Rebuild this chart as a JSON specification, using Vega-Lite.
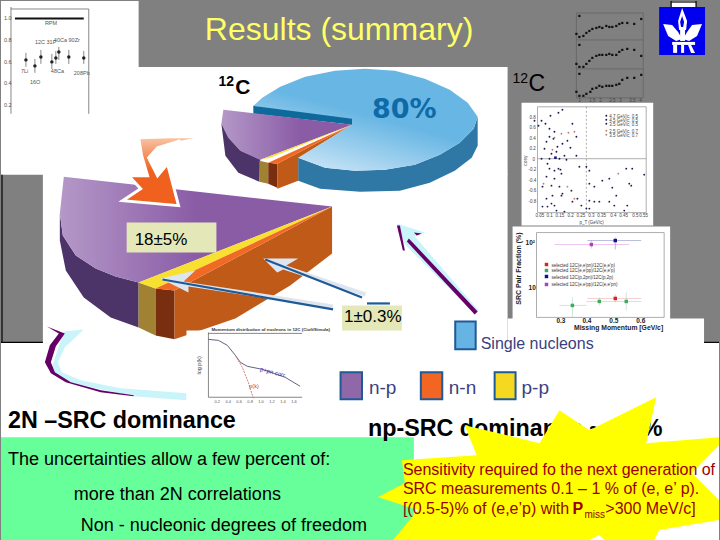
{
  "$schema": "https://vega.github.io/schema/vega-lite/v6.json",
  "description": "Slide: Results (summary), short-range correlation pie chart for 12C with small reference plots",
  "width": 720,
  "height": 540,
  "padding": 0,
  "autosize": {"type": "fit", "contains": "padding"},
  "background": "#808080",
  "view": {"stroke": null},
  "resolve": {"scale": {"fill": "independent", "stroke": "independent", "color": "independent"}},
  "encoding": {
    "x": {"field": "x", "type": "quantitative", "scale": {"domain": [0, 720], "nice": false, "zero": false}, "axis": null},
    "y": {"field": "y", "type": "quantitative", "scale": {"domain": [540, 0], "nice": false, "zero": false}, "axis": null}
  },
  "layer": [
    {
      "data": {"values": [
        {"x": 0, "x2": 138, "y": 0, "y2": 67},
        {"x": 0, "x2": 508, "y": 66, "y2": 174},
        {"x": 42, "x2": 508, "y": 173, "y2": 343},
        {"x": 0, "x2": 720, "y": 342, "y2": 540},
        {"x": 508, "x2": 705, "y": 318, "y2": 343},
        {"x": 513, "x2": 671, "y": 226, "y2": 319},
        {"x": 522, "x2": 654, "y": 102, "y2": 225},
        {"x": 672, "x2": 697, "y": 0, "y2": 6}
      ]},
      "mark": {"type": "rect", "fill": "#ffffff"},
      "encoding": {"x2": {"field": "x2"}, "y2": {"field": "y2"}}
    },
    {
      "data": {"values": [
        {"x": 0, "x2": 414, "y": 437, "y2": 540}
      ]},
      "mark": {"type": "rect", "fill": "#66ff99"},
      "encoding": {"x2": {"field": "x2"}, "y2": {"field": "y2"}}
    },
    {
      "data": {"values": [
        {"x": 1, "y": 174, "x2": 1, "y2": 342},
        {"x": 0, "y": 342, "x2": 42, "y2": 342},
        {"x": 705, "y": 342, "x2": 720, "y2": 342},
        {"x": 672, "y": 0, "x2": 672, "y2": 6},
        {"x": 697, "y": 0, "x2": 697, "y2": 6},
        {"x": 672, "y": 1, "x2": 697, "y2": 1}
      ]},
      "mark": {"type": "rule", "stroke": "#000000", "strokeWidth": 1.2},
      "encoding": {"x2": {"field": "x2"}, "y2": {"field": "y2"}}
    },
    {
      "data": {"values": [
        {"x": 298, "y": 157}, {"x": 325, "y": 167}, {"x": 355, "y": 170}, {"x": 385, "y": 169}, {"x": 415, "y": 164}, {"x": 440, "y": 154}, {"x": 460, "y": 142}, {"x": 474, "y": 128}, {"x": 478, "y": 116},
        {"x": 478, "y": 145}, {"x": 472, "y": 157}, {"x": 455, "y": 170}, {"x": 430, "y": 182}, {"x": 400, "y": 190}, {"x": 360, "y": 191}, {"x": 320, "y": 188}, {"x": 298, "y": 180}
      ]},
      "mark": {"type": "line", "order": false, "fill": "#2f78a6", "strokeWidth": 0}
    },
    {
      "data": {"values": [
        {"x": 352, "y": 124}, {"x": 253, "y": 105}, {"x": 262, "y": 97}, {"x": 280, "y": 86}, {"x": 305, "y": 76}, {"x": 335, "y": 70}, {"x": 365, "y": 68}, {"x": 395, "y": 70}, {"x": 425, "y": 78}, {"x": 450, "y": 89}, {"x": 468, "y": 102}, {"x": 478, "y": 116},
        {"x": 474, "y": 128}, {"x": 460, "y": 142}, {"x": 440, "y": 154}, {"x": 415, "y": 164}, {"x": 385, "y": 169}, {"x": 355, "y": 170}, {"x": 325, "y": 167}, {"x": 298, "y": 157}
      ]},
      "mark": {"type": "line", "order": false, "strokeWidth": 0, "fill": {"gradient": "linear", "x1": 0.2, "y1": 0.95, "x2": 0.5, "y2": 0.45, "stops": [{"offset": 0, "color": "#c8e4f6"}, {"offset": 1, "color": "#68b6e4"}]}}
    },
    {
      "data": {"values": [
        {"x": 253, "y": 105}, {"x": 352, "y": 118}, {"x": 352, "y": 124}, {"x": 253, "y": 113}
      ]},
      "mark": {"type": "line", "order": false, "fill": "#0f6a9c", "strokeWidth": 0}
    },
    {
      "data": {"values": [
        {"x": 223, "y": 109}, {"x": 352, "y": 124}, {"x": 260, "y": 159}, {"x": 240, "y": 150}, {"x": 228, "y": 137}, {"x": 221, "y": 123}
      ]},
      "mark": {"type": "line", "order": false, "strokeWidth": 0, "fill": {"gradient": "linear", "x1": 0, "y1": 0.5, "x2": 0.6, "y2": 0.5, "stops": [{"offset": 0, "color": "#b498c8"}, {"offset": 1, "color": "#8a5ca6"}]}}
    },
    {
      "data": {"values": [
        {"part": "sideP", "x": 221, "y": 123}, {"part": "sideP", "x": 228, "y": 137}, {"part": "sideP", "x": 240, "y": 150}, {"part": "sideP", "x": 260, "y": 159}, {"part": "sideP", "x": 259, "y": 181}, {"part": "sideP", "x": 238, "y": 172}, {"part": "sideP", "x": 225, "y": 155},
        {"part": "gold", "x": 259, "y": 160}, {"part": "gold", "x": 268, "y": 162}, {"part": "gold", "x": 268, "y": 183}, {"part": "gold", "x": 259, "y": 181},
        {"part": "brown", "x": 268, "y": 162}, {"part": "brown", "x": 277, "y": 163}, {"part": "brown", "x": 277, "y": 187}, {"part": "brown", "x": 268, "y": 183},
        {"part": "side", "x": 277, "y": 163}, {"part": "side", "x": 350, "y": 125}, {"part": "side", "x": 298, "y": 157}, {"part": "side", "x": 298, "y": 180}, {"part": "side", "x": 277, "y": 188},
        {"part": "yellow", "x": 260, "y": 159}, {"part": "yellow", "x": 270, "y": 157}, {"part": "yellow", "x": 352, "y": 124},
        {"part": "orange", "x": 268, "y": 162}, {"part": "orange", "x": 277, "y": 163}, {"part": "orange", "x": 352, "y": 124}
      ]},
      "mark": {"type": "line", "order": false, "strokeWidth": 0},
      "encoding": {
        "fill": {"field": "part", "type": "nominal", "legend": null, "scale": {"domain": ["sideP", "gold", "brown", "side", "yellow", "orange"], "range": ["#4c3468", "#a08232", "#7a2e10", "#c05a18", "#f8e030", "#f06a24"]}}
      }
    },
    {
      "data": {"values": [
        {"x": 59, "y": 213}, {"x": 62, "y": 235}, {"x": 75, "y": 255}, {"x": 95, "y": 268}, {"x": 115, "y": 276}, {"x": 138, "y": 282}, {"x": 138, "y": 327}, {"x": 110, "y": 317}, {"x": 83, "y": 297}, {"x": 65, "y": 270}, {"x": 59, "y": 240}
      ]},
      "mark": {"type": "line", "order": false, "fill": "#4c3468", "strokeWidth": 0}
    },
    {
      "data": {"values": [
        {"x": 63, "y": 176}, {"x": 332, "y": 206}, {"x": 138, "y": 282}, {"x": 115, "y": 276}, {"x": 95, "y": 268}, {"x": 75, "y": 255}, {"x": 62, "y": 235}, {"x": 59, "y": 213}
      ]},
      "mark": {"type": "line", "order": false, "strokeWidth": 0, "fill": {"gradient": "linear", "x1": 0, "y1": 0.5, "x2": 0.5, "y2": 0.5, "stops": [{"offset": 0, "color": "#b498c8"}, {"offset": 1, "color": "#8a5ca6"}]}}
    },
    {
      "data": {"values": [
        {"part": "gold", "x": 138, "y": 282}, {"part": "gold", "x": 155, "y": 288}, {"part": "gold", "x": 155, "y": 335}, {"part": "gold", "x": 138, "y": 327},
        {"part": "brown", "x": 155, "y": 288}, {"part": "brown", "x": 174, "y": 290}, {"part": "brown", "x": 174, "y": 339}, {"part": "brown", "x": 155, "y": 335},
        {"part": "side", "x": 174, "y": 290}, {"part": "side", "x": 332, "y": 206}, {"part": "side", "x": 332, "y": 253}, {"part": "side", "x": 290, "y": 285}, {"part": "side", "x": 235, "y": 318}, {"part": "side", "x": 174, "y": 339},
        {"part": "yellow", "x": 138, "y": 282}, {"part": "yellow", "x": 155, "y": 288}, {"part": "yellow", "x": 332, "y": 206},
        {"part": "orange", "x": 155, "y": 288}, {"part": "orange", "x": 174, "y": 290}, {"part": "orange", "x": 332, "y": 206}
      ]},
      "mark": {"type": "line", "order": false, "strokeWidth": 0},
      "encoding": {
        "fill": {"field": "part", "type": "nominal", "legend": null, "scale": {"domain": ["gold", "brown", "side", "yellow", "orange"], "range": ["#a08232", "#7a2e10", "#c05a18", "#f8e030", "#f06a24"]}}
      }
    },
    {
      "data": {"values": [
        {"x": 200, "y": 136}, {"x": 170, "y": 136}, {"x": 138, "y": 137}, {"x": 141, "y": 155}, {"x": 147, "y": 175}, {"x": 128, "y": 175}, {"x": 140, "y": 188}, {"x": 122, "y": 200}, {"x": 178, "y": 205}, {"x": 167, "y": 163}, {"x": 157, "y": 175}, {"x": 148, "y": 157}, {"x": 157, "y": 147}, {"x": 180, "y": 140}
      ]},
      "mark": {"type": "line", "order": false, "stroke": "#ffffff", "strokeWidth": 3, "fill": {"gradient": "linear", "x1": 0.5, "y1": 0, "x2": 0.5, "y2": 0.5, "stops": [{"offset": 0, "color": "#f8c8a8"}, {"offset": 1, "color": "#f0601f"}]}}
    },
    {
      "data": {"values": [
        {"part": "a", "x": 160, "y": 278}, {"part": "a", "x": 195, "y": 270}, {"part": "a", "x": 183, "y": 281}, {"part": "a", "x": 333, "y": 304}, {"part": "a", "x": 333, "y": 308}, {"part": "a", "x": 188, "y": 286}, {"part": "a", "x": 188, "y": 292},
        {"part": "b", "x": 263, "y": 258}, {"part": "b", "x": 298, "y": 258}, {"part": "b", "x": 286, "y": 265}, {"part": "b", "x": 366, "y": 292}, {"part": "b", "x": 365, "y": 296}, {"part": "b", "x": 283, "y": 269}, {"part": "b", "x": 277, "y": 272}
      ]},
      "mark": {"type": "line", "order": false, "fill": "#dde6f0", "strokeWidth": 0},
      "encoding": {"detail": {"field": "part"}}
    },
    {
      "data": {"values": [
        {"x": 162, "y": 279, "x2": 333, "y2": 309},
        {"x": 265, "y": 259, "x2": 362, "y2": 297},
        {"x": 367, "y": 303, "x2": 390, "y2": 303}
      ]},
      "mark": {"type": "rule", "stroke": "#1f5a96", "strokeWidth": 2.2},
      "encoding": {"x2": {"field": "x2"}, "y2": {"field": "y2"}}
    },
    {
      "data": {"values": [
        {"part": "a", "x": 397, "y": 223}, {"part": "a", "x": 425, "y": 232}, {"part": "a", "x": 415, "y": 236}, {"part": "a", "x": 479, "y": 310}, {"part": "a", "x": 475, "y": 313}, {"part": "a", "x": 405, "y": 244},
        {"part": "b", "x": 63, "y": 331}, {"part": "b", "x": 83, "y": 329}, {"part": "b", "x": 64, "y": 347}, {"part": "b", "x": 57, "y": 362}, {"part": "b", "x": 61, "y": 372}, {"part": "b", "x": 80, "y": 380}, {"part": "b", "x": 120, "y": 388}, {"part": "b", "x": 186, "y": 393}, {"part": "b", "x": 186, "y": 400}, {"part": "b", "x": 133, "y": 396}, {"part": "b", "x": 67, "y": 382}, {"part": "b", "x": 50, "y": 370}
      ]},
      "mark": {"type": "line", "order": false, "fill": "#c8f4fa", "strokeWidth": 0},
      "encoding": {"detail": {"field": "part"}}
    },
    {
      "data": {"values": [
        {"part": "c", "x": 46, "y": 326}, {"part": "c", "x": 64, "y": 333}, {"part": "c", "x": 55, "y": 346}, {"part": "c", "x": 50, "y": 362}, {"part": "c", "x": 54, "y": 372}, {"part": "c", "x": 70, "y": 382}, {"part": "c", "x": 100, "y": 390}, {"part": "c", "x": 133, "y": 395}, {"part": "c", "x": 133, "y": 396}, {"part": "c", "x": 100, "y": 392}, {"part": "c", "x": 65, "y": 382}, {"part": "c", "x": 50, "y": 373}, {"part": "c", "x": 44, "y": 362}, {"part": "c", "x": 49, "y": 345}, {"part": "c", "x": 58, "y": 333},
        {"part": "d", "x": 397, "y": 225}, {"part": "d", "x": 400, "y": 225}, {"part": "d", "x": 405, "y": 250}, {"part": "d", "x": 403, "y": 250},
        {"part": "e", "x": 409, "y": 238}, {"part": "e", "x": 478, "y": 311}, {"part": "e", "x": 475, "y": 314}, {"part": "e", "x": 407, "y": 241},
        {"part": "f", "x": 414, "y": 232}, {"part": "f", "x": 422, "y": 233}, {"part": "f", "x": 417, "y": 235}
      ]},
      "mark": {"type": "line", "order": false, "fill": "#660066", "strokeWidth": 0},
      "encoding": {"detail": {"field": "part"}}
    },
    {
      "data": {"values": [
        {"x": 186, "x2": 335, "y": 330, "y2": 404}
      ]},
      "mark": {"type": "rect", "fill": "#ffffff"},
      "encoding": {"x2": {"field": "x2"}, "y2": {"field": "y2"}}
    },
    {
      "data": {"values": [
        {"x": 126, "x2": 216, "y": 222, "y2": 252},
        {"x": 342, "x2": 402, "y": 305, "y2": 330}
      ]},
      "mark": {"type": "rect", "fill": "#e4e8b8"},
      "encoding": {"x2": {"field": "x2"}, "y2": {"field": "y2"}}
    },
    {
      "data": {"values": [
        {"x": 14, "y": 17.5, "x2": 83, "y2": 17.5}
      ]},
      "mark": {"type": "rule", "stroke": "#111111", "strokeWidth": 2},
      "encoding": {"x2": {"field": "x2"}, "y2": {"field": "y2"}}
    },
    {
      "data": {"values": [
        {"x": 10, "y": 6, "x2": 10, "y2": 113},
        {"x": 88, "y": 8, "x2": 88, "y2": 113},
        {"x": 10, "y": 8, "x2": 88, "y2": 8},
        {"x": 25, "y": 52, "x2": 25, "y2": 66},
        {"x": 34, "y": 58, "x2": 34, "y2": 72},
        {"x": 40, "y": 49, "x2": 40, "y2": 63},
        {"x": 51, "y": 53, "x2": 51, "y2": 68},
        {"x": 55, "y": 50, "x2": 55, "y2": 63},
        {"x": 58, "y": 46, "x2": 58, "y2": 59},
        {"x": 68, "y": 49, "x2": 68, "y2": 63},
        {"x": 83, "y": 50, "x2": 83, "y2": 63}
      ]},
      "mark": {"type": "rule", "stroke": "#555555", "strokeWidth": 0.7},
      "encoding": {"x2": {"field": "x2"}, "y2": {"field": "y2"}}
    },
    {
      "data": {"values": [
        {"x": 25, "y": 59}, {"x": 34, "y": 65}, {"x": 40, "y": 56}, {"x": 51, "y": 61}, {"x": 55, "y": 57}, {"x": 58, "y": 51}, {"x": 68, "y": 56}, {"x": 83, "y": 57}
      ]},
      "mark": {"type": "circle", "size": 12, "color": "#222222", "opacity": 1}
    },
    {
      "data": {"values": [
        {"text": "RPM", "x": 44, "y": 24},
        {"text": "12C 31P", "x": 34, "y": 43},
        {"text": "40Ca 90Zr", "x": 53, "y": 41},
        {"text": "7Li", "x": 20, "y": 72},
        {"text": "16O", "x": 29, "y": 83},
        {"text": "48Ca", "x": 50, "y": 72},
        {"text": "208Pb", "x": 73, "y": 74},
        {"text": "1.0", "x": 3, "y": 19},
        {"text": "0.8", "x": 3, "y": 41},
        {"text": "0.6", "x": 3, "y": 63},
        {"text": "0.4", "x": 3, "y": 84},
        {"text": "0.2", "x": 3, "y": 106}
      ]},
      "mark": {"type": "text", "align": "left", "baseline": "alphabetic", "font": "Liberation Sans", "fontSize": 5.5, "fill": "#555555"},
      "encoding": {"text": {"field": "text"}}
    },
    {
      "data": {"values": [
        {"x": 577, "y": 12, "x2": 577, "y2": 97},
        {"x": 644, "y": 12, "x2": 644, "y2": 97},
        {"x": 577, "y": 12, "x2": 644, "y2": 12},
        {"x": 577, "y": 39, "x2": 644, "y2": 39},
        {"x": 577, "y": 68, "x2": 644, "y2": 68},
        {"x": 577, "y": 97, "x2": 644, "y2": 97}
      ]},
      "mark": {"type": "rule", "stroke": "#606060", "strokeWidth": 0.7},
      "encoding": {"x2": {"field": "x2"}, "y2": {"field": "y2"}}
    },
    {
      "data": {"values": [
        {"x": 577, "y": 33}, {"x": 580, "y": 36}, {"x": 584, "y": 35}, {"x": 587, "y": 32}, {"x": 590, "y": 30}, {"x": 593, "y": 28}, {"x": 597, "y": 27}, {"x": 600, "y": 26}, {"x": 603, "y": 27}, {"x": 607, "y": 25}, {"x": 610, "y": 26}, {"x": 613, "y": 26}, {"x": 617, "y": 25}, {"x": 620, "y": 23}, {"x": 623, "y": 22}, {"x": 628, "y": 22}, {"x": 635, "y": 23}, {"x": 642, "y": 18}, {"x": 580, "y": 15},
        {"x": 577, "y": 63}, {"x": 580, "y": 66}, {"x": 584, "y": 66}, {"x": 587, "y": 63}, {"x": 590, "y": 60}, {"x": 593, "y": 57}, {"x": 597, "y": 55}, {"x": 600, "y": 54}, {"x": 603, "y": 54}, {"x": 607, "y": 54}, {"x": 610, "y": 53}, {"x": 613, "y": 54}, {"x": 617, "y": 54}, {"x": 620, "y": 51}, {"x": 623, "y": 49}, {"x": 628, "y": 48}, {"x": 635, "y": 49}, {"x": 642, "y": 55}, {"x": 580, "y": 44},
        {"x": 577, "y": 91}, {"x": 580, "y": 95}, {"x": 584, "y": 95}, {"x": 587, "y": 93}, {"x": 591, "y": 91}, {"x": 593, "y": 88}, {"x": 597, "y": 87}, {"x": 600, "y": 85}, {"x": 603, "y": 86}, {"x": 607, "y": 85}, {"x": 610, "y": 85}, {"x": 613, "y": 85}, {"x": 617, "y": 84}, {"x": 620, "y": 83}, {"x": 623, "y": 79}, {"x": 628, "y": 77}, {"x": 635, "y": 77}, {"x": 642, "y": 74}, {"x": 580, "y": 73}
      ]},
      "mark": {"type": "square", "size": 5, "color": "#111111", "opacity": 1}
    },
    {
      "data": {"values": [
        {"x": 538, "y": 106, "x2": 538, "y2": 212},
        {"x": 647, "y": 106, "x2": 647, "y2": 212},
        {"x": 538, "y": 106, "x2": 647, "y2": 106},
        {"x": 538, "y": 212, "x2": 647, "y2": 212},
        {"x": 538, "y": 158, "x2": 647, "y2": 158}
      ]},
      "mark": {"type": "rule", "stroke": "#999999", "strokeWidth": 0.8},
      "encoding": {"x2": {"field": "x2"}, "y2": {"field": "y2"}}
    },
    {
      "data": {"values": [
        {"x": 587, "y": 106, "x2": 587, "y2": 212}
      ]},
      "mark": {"type": "rule", "stroke": "#999999", "strokeWidth": 0.8, "strokeDash": [2, 2]},
      "encoding": {"x2": {"field": "x2"}, "y2": {"field": "y2"}}
    },
    {
      "data": {"values": [
        {"x": 563, "y": 109}, {"x": 551, "y": 115}, {"x": 559, "y": 112}, {"x": 535, "y": 120}, {"x": 542, "y": 120}, {"x": 546, "y": 123}, {"x": 539, "y": 125}, {"x": 550, "y": 128}, {"x": 573, "y": 123}, {"x": 550, "y": 136}, {"x": 555, "y": 131}, {"x": 577, "y": 136}, {"x": 547, "y": 141}, {"x": 554, "y": 138}, {"x": 568, "y": 140}, {"x": 563, "y": 143}, {"x": 558, "y": 146}, {"x": 571, "y": 147}, {"x": 545, "y": 148}, {"x": 557, "y": 151}, {"x": 552, "y": 153}, {"x": 565, "y": 155}, {"x": 577, "y": 155}, {"x": 542, "y": 158}, {"x": 550, "y": 158}, {"x": 560, "y": 158}, {"x": 567, "y": 159}, {"x": 548, "y": 163}, {"x": 580, "y": 166}, {"x": 587, "y": 166}, {"x": 590, "y": 170}, {"x": 550, "y": 168}, {"x": 555, "y": 170}, {"x": 559, "y": 168}, {"x": 561, "y": 169}, {"x": 547, "y": 176}, {"x": 555, "y": 178}, {"x": 562, "y": 173}, {"x": 543, "y": 186}, {"x": 552, "y": 185}, {"x": 560, "y": 186}, {"x": 563, "y": 193}, {"x": 572, "y": 190}, {"x": 553, "y": 195}, {"x": 562, "y": 195}, {"x": 547, "y": 198}, {"x": 552, "y": 203}, {"x": 555, "y": 205}, {"x": 573, "y": 201}, {"x": 578, "y": 198}, {"x": 548, "y": 206}, {"x": 543, "y": 206}, {"x": 557, "y": 210}, {"x": 582, "y": 205}, {"x": 587, "y": 208}, {"x": 590, "y": 183}, {"x": 595, "y": 186}, {"x": 603, "y": 180}, {"x": 610, "y": 178}, {"x": 613, "y": 187}, {"x": 617, "y": 195}, {"x": 610, "y": 201}, {"x": 600, "y": 201}, {"x": 595, "y": 201}, {"x": 590, "y": 200}, {"x": 627, "y": 168}, {"x": 633, "y": 168}, {"x": 630, "y": 183}, {"x": 632, "y": 185}, {"x": 645, "y": 174}, {"x": 628, "y": 205}, {"x": 590, "y": 208}, {"x": 565, "y": 211}, {"x": 615, "y": 205}, {"x": 625, "y": 210},
        {"x": 607, "y": 115}, {"x": 607, "y": 119}, {"x": 607, "y": 123}
      ]},
      "mark": {"type": "circle", "size": 3.5, "color": "#1a1a50", "opacity": 1}
    },
    {
      "data": {"values": [
        {"x": 555, "y": 137}, {"x": 562, "y": 133}, {"x": 569, "y": 132}, {"x": 575, "y": 131}, {"x": 553, "y": 149}, {"x": 544, "y": 183}, {"x": 568, "y": 186}, {"x": 575, "y": 198}, {"x": 607, "y": 130}, {"x": 607, "y": 134}, {"x": 619, "y": 173}
      ]},
      "mark": {"type": "circle", "size": 3.5, "color": "#c08070", "opacity": 1}
    },
    {
      "data": {"values": [
        {"x": 556, "y": 157}
      ]},
      "mark": {"type": "square", "size": 7, "color": "#1a1a80", "opacity": 1}
    },
    {
      "data": {"values": [
        {"text": "4.7 GeV/c, 0.5", "x": 610, "y": 117},
        {"text": "4.5 GeV/c, 0.5", "x": 610, "y": 121},
        {"text": "3.5 GeV/c, 0.5", "x": 610, "y": 125},
        {"text": "2.5 GeV/c, 0.7", "x": 610, "y": 132},
        {"text": "3.5 GeV/c, 0.7", "x": 610, "y": 136},
        {"text": "0.05", "x": 536, "y": 216},
        {"text": "0.1", "x": 547, "y": 216},
        {"text": "0.15", "x": 556, "y": 216},
        {"text": "0.2", "x": 568, "y": 216},
        {"text": "0.25", "x": 577, "y": 216},
        {"text": "0.3", "x": 589, "y": 216},
        {"text": "0.35", "x": 598, "y": 216},
        {"text": "0.4", "x": 611, "y": 216},
        {"text": "0.45", "x": 620, "y": 216},
        {"text": "0.5", "x": 633, "y": 216},
        {"text": "0.55", "x": 640, "y": 216},
        {"text": "0.8", "x": 530, "y": 118},
        {"text": "0.6", "x": 530, "y": 128},
        {"text": "0.4", "x": 530, "y": 139},
        {"text": "0.2", "x": 530, "y": 149},
        {"text": "0", "x": 533, "y": 160},
        {"text": "-0.2", "x": 529, "y": 170},
        {"text": "-0.4", "x": 529, "y": 181},
        {"text": "-0.6", "x": 529, "y": 191},
        {"text": "-0.8", "x": 529, "y": 202},
        {"text": "p_T (GeV/c)", "x": 580, "y": 223},
        {"text": "1", "x": 579, "y": 101},
        {"text": "1.5", "x": 590, "y": 101},
        {"text": "2", "x": 600, "y": 101},
        {"text": "2.5", "x": 610, "y": 101},
        {"text": "3", "x": 620, "y": 101},
        {"text": "3.5", "x": 630, "y": 101},
        {"text": "4", "x": 640, "y": 101}
      ]},
      "mark": {"type": "text", "align": "left", "baseline": "alphabetic", "font": "Liberation Sans", "fontSize": 4.5, "fill": "#444444"},
      "encoding": {"text": {"field": "text"}}
    },
    {
      "data": {"values": [
        {"text": "cosγ", "x": 527, "y": 160}
      ]},
      "mark": {"type": "text", "angle": 270, "align": "center", "baseline": "alphabetic", "font": "Liberation Sans", "fontSize": 5, "fill": "#444444"},
      "encoding": {"text": {"field": "text"}}
    },
    {
      "data": {"values": [
        {"x": 537, "y": 232, "x2": 537, "y2": 317},
        {"x": 665, "y": 232, "x2": 665, "y2": 317},
        {"x": 537, "y": 232, "x2": 665, "y2": 232},
        {"x": 537, "y": 317, "x2": 665, "y2": 317}
      ]},
      "mark": {"type": "rule", "stroke": "#999999", "strokeWidth": 0.8},
      "encoding": {"x2": {"field": "x2"}, "y2": {"field": "y2"}}
    },
    {
      "data": {"values": [
        {"x": 555, "y": 244, "x2": 630, "y2": 244, "s": "mag"},
        {"x": 592, "y": 240, "x2": 592, "y2": 248, "s": "mag"},
        {"x": 588, "y": 240, "x2": 642, "y2": 240, "s": "blue"},
        {"x": 616, "y": 237, "x2": 616, "y2": 249, "s": "blue"},
        {"x": 588, "y": 298, "x2": 642, "y2": 298, "s": "red"},
        {"x": 616, "y": 294, "x2": 616, "y2": 302, "s": "red"},
        {"x": 587, "y": 301, "x2": 615, "y2": 301, "s": "green"},
        {"x": 600, "y": 297, "x2": 600, "y2": 305, "s": "green"},
        {"x": 615, "y": 301, "x2": 642, "y2": 301, "s": "green"},
        {"x": 627, "y": 292, "x2": 627, "y2": 310, "s": "green"},
        {"x": 560, "y": 305, "x2": 587, "y2": 305, "s": "green"},
        {"x": 573, "y": 297, "x2": 573, "y2": 317, "s": "green"}
      ]},
      "mark": {"type": "rule", "strokeWidth": 0.7, "opacity": 0.55},
      "encoding": {
        "x2": {"field": "x2"}, "y2": {"field": "y2"},
        "stroke": {"field": "s", "type": "nominal", "legend": null, "scale": {"domain": ["mag", "blue", "red", "green"], "range": ["#d060d8", "#4050a0", "#e08080", "#80c090"]}}
      }
    },
    {
      "data": {"values": [
        {"x": 592, "y": 244, "s": "mag"},
        {"x": 547, "y": 284, "s": "mag"},
        {"x": 616, "y": 240, "s": "blue"},
        {"x": 547, "y": 276, "s": "blue"},
        {"x": 616, "y": 298, "s": "red"},
        {"x": 547, "y": 264, "s": "red"},
        {"x": 600, "y": 301, "s": "green"},
        {"x": 627, "y": 301, "s": "green"},
        {"x": 573, "y": 305, "s": "green"},
        {"x": 547, "y": 270, "s": "green"}
      ]},
      "mark": {"type": "square", "size": 12, "opacity": 1},
      "encoding": {
        "color": {"field": "s", "type": "nominal", "legend": null, "scale": {"domain": ["mag", "blue", "red", "green"], "range": ["#b040c0", "#101090", "#e02020", "#40a860"]}}
      }
    },
    {
      "data": {"values": [
        {"text": "selected 12C(e,e'pn)/12C(e,e'p)", "x": 552, "y": 266},
        {"text": "selected 12C(e,e'pp)/12C(e,e'p)", "x": 552, "y": 272},
        {"text": "selected 12C(p,2pn)/12C(p,2p)", "x": 552, "y": 279},
        {"text": "selected 12C(e,e'pp)/12C(e,e'pn)", "x": 552, "y": 286}
      ]},
      "mark": {"type": "text", "align": "left", "baseline": "alphabetic", "font": "Liberation Sans", "fontSize": 4.5, "fill": "#333333"},
      "encoding": {"text": {"field": "text"}}
    },
    {
      "data": {"values": [
        {"text": "10²", "x": 526, "y": 244},
        {"text": "10", "x": 529, "y": 290},
        {"text": "0.3", "x": 557, "y": 323},
        {"text": "0.4", "x": 583, "y": 323},
        {"text": "0.5", "x": 610, "y": 323},
        {"text": "0.6", "x": 637, "y": 323}
      ]},
      "mark": {"type": "text", "align": "left", "baseline": "alphabetic", "font": "Liberation Sans", "fontWeight": "bold", "fontSize": 6.5, "fill": "#222222"},
      "encoding": {"text": {"field": "text"}}
    },
    {
      "data": {"values": [
        {"text": "Missing Momentum [GeV/c]", "x": 664, "y": 330}
      ]},
      "mark": {"type": "text", "align": "right", "baseline": "alphabetic", "font": "Liberation Sans", "fontWeight": "bold", "fontSize": 6.8, "fill": "#222222"},
      "encoding": {"text": {"field": "text"}}
    },
    {
      "data": {"values": [
        {"text": "SRC Pair Fraction (%)", "x": 521, "y": 268}
      ]},
      "mark": {"type": "text", "angle": 270, "align": "center", "baseline": "alphabetic", "font": "Liberation Sans", "fontSize": 7, "fontWeight": "bold", "fill": "#222222"},
      "encoding": {"text": {"field": "text"}}
    },
    {
      "data": {"values": [
        {"x": 660, "x2": 706, "y": 6, "y2": 54}
      ]},
      "mark": {"type": "rect", "fill": "#0000ee"},
      "encoding": {"x2": {"field": "x2"}, "y2": {"field": "y2"}}
    },
    {
      "data": {"values": [
        {"part": "flame", "x": 683, "y": 7}, {"part": "flame", "x": 688, "y": 20}, {"part": "flame", "x": 687, "y": 29}, {"part": "flame", "x": 680, "y": 29}, {"part": "flame", "x": 679, "y": 20},
        {"part": "leafL", "x": 664, "y": 23}, {"part": "leafL", "x": 673, "y": 24}, {"part": "leafL", "x": 679, "y": 31}, {"part": "leafL", "x": 683, "y": 38}, {"part": "leafL", "x": 677, "y": 40}, {"part": "leafL", "x": 669, "y": 35},
        {"part": "leafR", "x": 703, "y": 23}, {"part": "leafR", "x": 693, "y": 24}, {"part": "leafR", "x": 688, "y": 31}, {"part": "leafR", "x": 684, "y": 38}, {"part": "leafR", "x": 690, "y": 40}, {"part": "leafR", "x": 698, "y": 35},
        {"part": "stem", "x": 681, "y": 28}, {"part": "stem", "x": 686, "y": 28}, {"part": "stem", "x": 686, "y": 40}, {"part": "stem", "x": 681, "y": 40},
        {"part": "bar", "x": 673, "y": 41}, {"part": "bar", "x": 696, "y": 41}, {"part": "bar", "x": 696, "y": 44}, {"part": "bar", "x": 673, "y": 44},
        {"part": "legL", "x": 674, "y": 44}, {"part": "legL", "x": 678, "y": 44}, {"part": "legL", "x": 678, "y": 52}, {"part": "legL", "x": 674, "y": 52},
        {"part": "legM", "x": 682, "y": 44}, {"part": "legM", "x": 685, "y": 44}, {"part": "legM", "x": 685, "y": 52}, {"part": "legM", "x": 682, "y": 52},
        {"part": "legR", "x": 689, "y": 44}, {"part": "legR", "x": 692, "y": 44}, {"part": "legR", "x": 696, "y": 52}, {"part": "legR", "x": 692, "y": 52}
      ]},
      "mark": {"type": "line", "order": false, "fill": "#ffffff", "strokeWidth": 0},
      "encoding": {"detail": {"field": "part"}}
    },
    {
      "data": {"values": [
        {"x": 683, "y": 15}, {"x": 685, "y": 21}, {"x": 684, "y": 26}, {"x": 682, "y": 26}, {"x": 681, "y": 21}
      ]},
      "mark": {"type": "line", "order": false, "fill": "#0000ee", "strokeWidth": 0}
    },
    {
      "data": {"values": [
        {"x": 208, "y": 332, "x2": 208, "y2": 397},
        {"x": 208, "y": 397, "x2": 302, "y2": 397},
        {"x": 208, "y": 333, "x2": 302, "y2": 333}
      ]},
      "mark": {"type": "rule", "stroke": "#555555", "strokeWidth": 0.7},
      "encoding": {"x2": {"field": "x2"}, "y2": {"field": "y2"}}
    },
    {
      "data": {"values": [
        {"x": 208, "y": 339}, {"x": 218, "y": 340}, {"x": 227, "y": 345}, {"x": 235, "y": 355}, {"x": 240, "y": 362}, {"x": 247, "y": 366}, {"x": 262, "y": 369}, {"x": 285, "y": 377}, {"x": 300, "y": 386}
      ]},
      "mark": {"type": "line", "order": false, "stroke": "#505070", "strokeWidth": 0.9}
    },
    {
      "data": {"values": [
        {"x": 235, "y": 355}, {"x": 242, "y": 367}, {"x": 248, "y": 382}, {"x": 253, "y": 398}
      ]},
      "mark": {"type": "line", "order": false, "stroke": "#d07070", "strokeWidth": 0.9, "strokeDash": [2, 1]}
    },
    {
      "data": {"values": [
        {"text": "Momentum distribution of nucleons in 12C (Ciofi/Simula)", "x": 211, "y": 331}
      ]},
      "mark": {"type": "text", "align": "left", "baseline": "alphabetic", "font": "Liberation Sans", "fontSize": 4.4, "fontWeight": "bold", "fill": "#333333"},
      "encoding": {"text": {"field": "text"}}
    },
    {
      "data": {"values": [
        {"text": "p+pn corr.", "x": 273, "y": 372}
      ]},
      "mark": {"type": "text", "angle": 14, "align": "center", "baseline": "middle", "font": "Liberation Sans", "fontSize": 6, "fill": "#3030b0"},
      "encoding": {"text": {"field": "text"}}
    },
    {
      "data": {"values": [
        {"text": "p(k)", "x": 249, "y": 388}
      ]},
      "mark": {"type": "text", "align": "left", "baseline": "alphabetic", "font": "Liberation Sans", "fontSize": 5.5, "fill": "#d03030"},
      "encoding": {"text": {"field": "text"}}
    },
    {
      "data": {"values": [
        {"text": "0.2", "x": 214, "y": 403},
        {"text": "0.4", "x": 225, "y": 403},
        {"text": "0.6", "x": 236, "y": 403},
        {"text": "0.8", "x": 247, "y": 403},
        {"text": "1.0", "x": 258, "y": 403},
        {"text": "1.2", "x": 269, "y": 403},
        {"text": "1.4", "x": 280, "y": 403},
        {"text": "1.6", "x": 291, "y": 403}
      ]},
      "mark": {"type": "text", "align": "left", "baseline": "alphabetic", "font": "Liberation Sans", "fontSize": 4, "fill": "#555555"},
      "encoding": {"text": {"field": "text"}}
    },
    {
      "data": {"values": [
        {"text": "log p(k)", "x": 201, "y": 365}
      ]},
      "mark": {"type": "text", "angle": 270, "align": "center", "baseline": "alphabetic", "font": "Liberation Sans", "fontSize": 5.5, "fill": "#444444"},
      "encoding": {"text": {"field": "text"}}
    },
    {
      "data": {"values": [
        {"x": 455.5, "x2": 476, "y": 321, "y2": 349, "part": "single"},
        {"x": 340.5, "x2": 362, "y": 372, "y2": 399, "part": "np"},
        {"x": 421, "x2": 442.5, "y": 372, "y2": 399, "part": "nn"},
        {"x": 495, "x2": 516, "y": 372, "y2": 399, "part": "pp"}
      ]},
      "mark": {"type": "rect", "stroke": "#1f5a96", "strokeWidth": 2},
      "encoding": {
        "x2": {"field": "x2"}, "y2": {"field": "y2"},
        "fill": {"field": "part", "type": "nominal", "legend": null, "scale": {"domain": ["single", "np", "nn", "pp"], "range": ["#66b4e4", "#9068a8", "#f26522", "#f5d820"]}}
      }
    },
    {
      "data": {"values": [
        {"text": "Single nucleons", "x": 481, "y": 349}
      ]},
      "mark": {"type": "text", "align": "left", "baseline": "alphabetic", "font": "Liberation Sans", "fontSize": 16, "fill": "#3a3f80"},
      "encoding": {"text": {"field": "text"}}
    },
    {
      "data": {"values": [
        {"text": "n-p", "x": 369, "y": 394},
        {"text": "n-n", "x": 449, "y": 394},
        {"text": "p-p", "x": 522, "y": 394}
      ]},
      "mark": {"type": "text", "align": "left", "baseline": "alphabetic", "font": "Liberation Sans", "fontSize": 19, "fill": "#3a3f80"},
      "encoding": {"text": {"field": "text"}}
    },
    {
      "data": {"values": [
        {"text": "Results (summary)", "x": 339, "y": 39}
      ]},
      "mark": {"type": "text", "align": "center", "baseline": "alphabetic", "font": "Liberation Sans", "fontSize": 32, "fill": "#ffff66"},
      "encoding": {"text": {"field": "text"}}
    },
    {
      "data": {"values": [
        {"text": "80%", "x": 372, "y": 117}
      ]},
      "mark": {"type": "text", "align": "left", "baseline": "alphabetic", "font": "DejaVu Sans", "fontWeight": "bold", "fontSize": 27, "fill": "#0f6aa8"},
      "encoding": {"text": {"field": "text"}}
    },
    {
      "data": {"values": [
        {"text": "12", "x": 218, "y": 85}
      ]},
      "mark": {"type": "text", "align": "left", "baseline": "alphabetic", "font": "Liberation Sans", "fontWeight": "bold", "fontSize": 14, "fill": "#000000"},
      "encoding": {"text": {"field": "text"}}
    },
    {
      "data": {"values": [
        {"text": "C", "x": 235, "y": 93}
      ]},
      "mark": {"type": "text", "align": "left", "baseline": "alphabetic", "font": "Liberation Sans", "fontWeight": "bold", "fontSize": 21, "fill": "#000000"},
      "encoding": {"text": {"field": "text"}}
    },
    {
      "data": {"values": [
        {"text": "12", "x": 513, "y": 82}
      ]},
      "mark": {"type": "text", "align": "left", "baseline": "alphabetic", "font": "Liberation Sans", "fontSize": 14, "fill": "#000000"},
      "encoding": {"text": {"field": "text"}}
    },
    {
      "data": {"values": [
        {"text": "C", "x": 529, "y": 90}
      ]},
      "mark": {"type": "text", "align": "left", "baseline": "alphabetic", "font": "Liberation Sans", "fontSize": 23, "fill": "#000000"},
      "encoding": {"text": {"field": "text"}}
    },
    {
      "data": {"values": [
        {"text": "18±5%", "x": 134, "y": 244},
        {"text": "1±0.3%", "x": 344, "y": 322}
      ]},
      "mark": {"type": "text", "align": "left", "baseline": "alphabetic", "font": "Liberation Sans", "fontSize": 17, "fill": "#000000"},
      "encoding": {"text": {"field": "text"}}
    },
    {
      "data": {"values": [
        {"text": "2N –SRC dominance", "x": 7, "y": 428},
        {"text": "np-SRC dominance ~ 90 %", "x": 368, "y": 436}
      ]},
      "mark": {"type": "text", "align": "left", "baseline": "alphabetic", "font": "Liberation Sans", "fontWeight": "bold", "fontSize": 23.3, "fill": "#000000"},
      "encoding": {"text": {"field": "text"}}
    },
    {
      "data": {"values": [
        {"text": "The uncertainties allow a few percent of:", "x": 7, "y": 465},
        {"text": "more than 2N correlations", "x": 73, "y": 500},
        {"text": "Non - nucleonic degrees of  freedom", "x": 80, "y": 531}
      ]},
      "mark": {"type": "text", "align": "left", "baseline": "alphabetic", "font": "Liberation Sans", "fontSize": 18, "fill": "#000000"},
      "encoding": {"text": {"field": "text"}}
    },
    {
      "data": {"values": [
        {"x": 378, "y": 497}, {"x": 405, "y": 483}, {"x": 402, "y": 460}, {"x": 477, "y": 455}, {"x": 465, "y": 425}, {"x": 540, "y": 443}, {"x": 560, "y": 410}, {"x": 590, "y": 430}, {"x": 657, "y": 397}, {"x": 647, "y": 443}, {"x": 720, "y": 437}, {"x": 720, "y": 445}, {"x": 693, "y": 473}, {"x": 720, "y": 500}, {"x": 720, "y": 520}, {"x": 660, "y": 530}, {"x": 655, "y": 540}, {"x": 605, "y": 540}, {"x": 600, "y": 535}, {"x": 590, "y": 540}, {"x": 393, "y": 540}, {"x": 418, "y": 510}
      ]},
      "mark": {"type": "line", "order": false, "fill": "#ffff00", "strokeWidth": 0}
    },
    {
      "data": {"values": [
        {"text": "Sensitivity required fo the next generation of", "x": 403, "y": 475},
        {"text": "SRC measurements 0.1 – 1 %  of  (e, e’ p).", "x": 403, "y": 494},
        {"text": "[(0.5-5)% of (e,e’p) with", "x": 403, "y": 514},
        {"text": ">300 MeV/c]", "x": 606, "y": 514}
      ]},
      "mark": {"type": "text", "align": "left", "baseline": "alphabetic", "font": "Liberation Sans", "fontSize": 16, "fill": "#990000"},
      "encoding": {"text": {"field": "text"}}
    },
    {
      "data": {"values": [
        {"text": "P", "x": 573, "y": 514}
      ]},
      "mark": {"type": "text", "align": "left", "baseline": "alphabetic", "font": "Liberation Sans", "fontWeight": "bold", "fontSize": 16, "fill": "#990000"},
      "encoding": {"text": {"field": "text"}}
    },
    {
      "data": {"values": [
        {"text": "miss", "x": 585, "y": 518}
      ]},
      "mark": {"type": "text", "align": "left", "baseline": "alphabetic", "font": "Liberation Sans", "fontSize": 10, "fill": "#990000"},
      "encoding": {"text": {"field": "text"}}
    }
  ]
}
